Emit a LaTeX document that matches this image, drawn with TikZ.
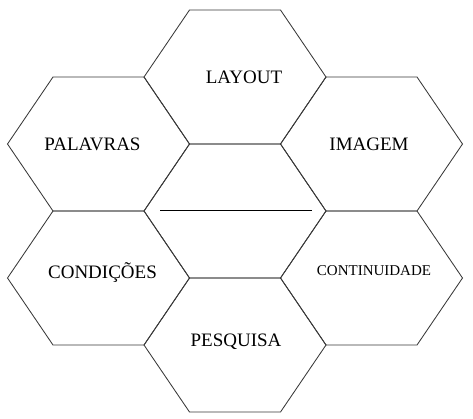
\documentclass[tikz,border=0pt]{standalone}
\usepackage{fontspec}
\setmainfont{Liberation Serif}
\begin{document}
\begin{tikzpicture}[x=1pt,y=-1pt,
  hexline/.style={draw=black!78, line width=0.85pt, line join=miter},
  hexa/.pic={\draw[hexline] (-91,0) -- (-45.5,-67) -- (45.5,-67) -- (91,0) -- (45.5,67) -- (-45.5,67) -- cycle;},
  lbl/.style={font=\fontsize{19}{22}\selectfont, inner sep=0pt, anchor=base},
  lblsmall/.style={font=\fontsize{15}{18}\selectfont, inner sep=0pt, anchor=base}]
\useasboundingbox (0,0) rectangle (473,418);
% hexagons
\pic at (235,77) {hexa};
\pic at (98.5,144) {hexa};
\pic at (371.5,144) {hexa};
\pic at (235,211) {hexa};
\pic at (98.5,278) {hexa};
\pic at (371.5,278) {hexa};
\pic at (235,345) {hexa};
% labels
\node[lbl] (layout) at (244,83.5) {LAYOUT};
\node[lbl] (palavras) at (92.5,150.5) {PALAVRAS};
\node[lbl] (imagem) at (369,150.5) {IMAGEM};
\node[lbl] (condicoes) at (102.5,278.3) {CONDIÇÕES};
\node[lblsmall] (continuidade) at (374,275) {CONTINUIDADE};
\node[lbl] (pesquisa) at (236,346.5) {PESQUISA};
% centre line
\coordinate (lineL) at (160,210.5);
\coordinate (lineR) at (312,210.5);
\draw[black, line width=1.1pt] (lineL) -- (lineR);
\end{tikzpicture}
\end{document}
